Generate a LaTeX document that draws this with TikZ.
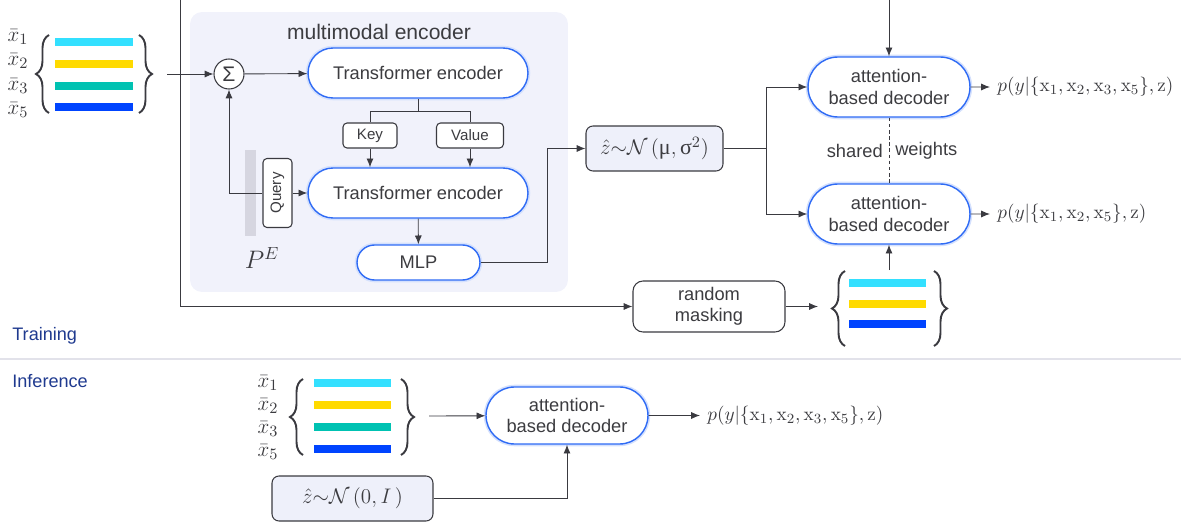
\documentclass[tikz,border=0pt]{standalone}
\usepackage[no-math]{fontspec}
\setmainfont{Liberation Sans}
\newfontfamily\grkfont{Liberation Serif}
\usepackage{xcolor}
\usetikzlibrary{arrows.meta,positioning,shapes.misc,decorations.pathreplacing}

\definecolor{linegray}{HTML}{3A3A40}
\definecolor{textgray}{HTML}{3C3C40}
\definecolor{stadblue}{HTML}{2F6BF5}
\definecolor{encbg}{HTML}{F1F2FB}
\definecolor{zfill}{HTML}{EEF0FA}
\definecolor{barcyan}{HTML}{33E0FF}
\definecolor{baryellow}{HTML}{FFDA00}
\definecolor{barteal}{HTML}{00C2B2}
\definecolor{barblue}{HTML}{0044FF}
\definecolor{pegray}{HTML}{D6D6E0}
\definecolor{phaseblue}{HTML}{1F3A8F}
\definecolor{sepgray}{HTML}{E2E2EA}

\begin{document}
\begin{tikzpicture}[x=0.02cm, y=-0.02cm, every node/.style={text=textgray},
    wire/.style={draw=linegray, line width=0.5pt},
    conn/.style={wire, -{Latex[length=5pt,width=4pt]}},
    stadium/.style={rounded rectangle, draw=stadblue, line width=0.8pt, fill=white,
        preaction={draw=stadblue!20, line width=2.6pt}, inner sep=0pt, align=center,
        font=\fontsize{10.4}{12}\selectfont},
    smallbox/.style={draw=linegray, line width=0.6pt, fill=white, rounded corners=0.08cm,
        inner sep=0pt, font=\fontsize{8.6}{10}\selectfont},
    distbox/.style={draw=linegray, line width=0.6pt, fill=zfill, rounded corners=0.14cm,
        inner sep=0pt, font=\fontsize{12.5}{14}\selectfont},
    colbar/.style={minimum width=1.55cm, minimum height=0.16cm, inner sep=0pt},
    xlab/.style={inner sep=0pt, font=\fontsize{12.5}{14}\selectfont},
    setbrace/.style={wire, line width=1.1pt, decorate, decoration={brace, amplitude=0.26cm}},
    outlab/.style={anchor=west, inner sep=4pt, font=\fontsize{11.2}{13}\selectfont},
    phase/.style={anchor=west, inner sep=0pt, text=phaseblue, font=\fontsize{10.3}{12}\selectfont}]
    \useasboundingbox (0,0) rectangle (1181,527);

    % Training / Inference split
    \draw[sepgray, line width=1pt] (0,359) -- (1181,359);
    \node[phase] (train) at (12,336) {Training};
    \node[phase] (infer) at (12,381) {Inference};

    % Input modalities (training)
    \foreach \i/\col/\y in {1/barcyan/42,2/baryellow/64,3/barteal/86,5/barblue/107}
        \node[colbar, fill=\col] (tbar\i) at (94,\y) {};
    \foreach \i/\y in {1/37,2/61,3/86,5/110}
        \node[xlab] (tlab\i) at (18,\y) {$\bar{x}_{\i}$};
    \draw[setbrace] (49,113) -- (49,35);
    \draw[setbrace] (139,35) -- (139,113);
    \coordinate (tsetr) at (167,74);

    % Multimodal encoder
    \node[fill=encbg, rounded corners=0.24cm, minimum width=7.56cm, minimum height=5.6cm] (enc) at (379,152) {};
    \node[font=\fontsize{12}{14}\selectfont] (enctitle) at (379,32) {multimodal encoder};
    \node[circle, draw=linegray, line width=0.6pt, fill=white, minimum size=0.6cm, inner sep=0pt,
        font=\fontsize{12}{12}\selectfont] (sum) at (229,74) {Σ};
    \node[stadium, minimum width=4.4cm, minimum height=1cm] (te1) at (418,73) {Transformer encoder};
    \node[smallbox, minimum width=1.08cm, minimum height=0.5cm] (key) at (370,135.5) {Key};
    \node[smallbox, minimum width=1.34cm, minimum height=0.5cm] (val) at (470,135.5) {Value};
    \node[stadium, minimum width=4.4cm, minimum height=1cm] (te2) at (418,193) {Transformer encoder};
    \node[fill=pegray, minimum width=0.22cm, minimum height=1.72cm, inner sep=0pt] (pe) at (250.5,193) {};
    \node[font=\fontsize{14}{16}\selectfont] (pelab) at (262,258) {$P^E$};
    \node[smallbox, rotate=90, minimum width=1.38cm, minimum height=0.58cm] (query) at (277.5,193) {Query};
    \node[stadium, minimum width=2.46cm, minimum height=0.7cm] (mlp) at (418.5,262.5) {MLP};

    \draw[conn] (tsetr) -- (sum);
    \draw[conn] (sum) -- (te1);
    \draw[wire] (te1.south) -- ++(0,13) coordinate (kvsplit);
    \draw[wire] (key.north) |- (kvsplit) -| (val.north);
    \draw[conn] (key.south) -- (key.south |- te2.north);
    \draw[conn] (val.south) -- (val.south |- te2.north);
    \draw[conn] (query) -- (te2);
    \draw[conn] (query.north) -| (sum.south);
    \draw[conn] (te2) -- (mlp);

    % Latent and decoders
    \node[distbox, minimum width=2.74cm, minimum height=0.9cm] (zpost) at (654.5,148.5)
        {$\hat{z}{\sim}\mathcal{N}\,(\mbox{\grkfont μ},\mbox{\grkfont σ}^{2})$};
    \node[stadium, minimum width=3.24cm, minimum height=1.2cm] (dec1) at (889,87) {attention-\\based decoder};
    \node[stadium, minimum width=3.24cm, minimum height=1.2cm] (dec2) at (889,214) {attention-\\based decoder};
    \node[outlab] (out1) at (990,87) {$p(y|\{\mathrm{x}_1,\mathrm{x}_2,\mathrm{x}_3,\mathrm{x}_5\},\mathrm{z})$};
    \node[outlab] (out2) at (990,214) {$p(y|\{\mathrm{x}_1,\mathrm{x}_2,\mathrm{x}_5\},\mathrm{z})$};
    \coordinate (zsplit) at (766,148.5);
    \coordinate (topfb) at (889,0);

    \draw[conn] (mlp.east) -- ++(67,0) |- (zpost.west);
    \draw[wire] (zpost.east) -- (zsplit);
    \draw[conn] (zsplit) |- (dec1.west);
    \draw[conn] (zsplit) |- (dec2.west);
    \draw[wire, dashed, dash pattern=on 2pt off 1.5pt] (dec1.south) -- node[left, font=\fontsize{10.4}{12}\selectfont] {shared}
        node[right, font=\fontsize{10.4}{12}\selectfont] {weights} (dec2.north);
    \draw[conn] (dec1) -- (out1);
    \draw[conn] (dec2) -- (out2);
    \draw[conn] (topfb) -- (dec1.north);

    % Random masking
    \coordinate (topleft) at (180,0);
    \node[smallbox, rounded corners=0.2cm, minimum width=3.04cm, minimum height=1.02cm, align=center,
        font=\fontsize{10.4}{12}\selectfont] (mask) at (709,306.5) {random\\masking};
    \foreach \i/\col/\y in {1/barcyan/283,2/baryellow/304,5/barblue/324}
        \node[colbar, fill=\col] (mbar\i) at (887.5,\y) {};
    \draw[setbrace] (845,346) -- (845,271);
    \draw[setbrace] (934,271) -- (934,346);
    \coordinate (msetl) at (818,306.5);
    \coordinate (msettop) at (889,270);
    \draw[conn] (topleft) |- (mask.west);
    \draw[conn] (mask) -- (msetl);
    \draw[conn] (msettop) -- (dec2.south);

    % Inference
    \foreach \i/\col/\y in {1/barcyan/383,2/baryellow/405,3/barteal/427,5/barblue/449}
        \node[colbar, fill=\col] (ibar\i) at (352.5,\y) {};
    \foreach \i/\y in {1/383,2/406,3/429,5/452}
        \node[xlab] (ilab\i) at (268,\y) {$\bar{x}_{\i}$};
    \draw[setbrace] (303,455) -- (303,379);
    \draw[setbrace] (401,379) -- (401,455);
    \coordinate (isetr) at (429,416);
    \node[stadium, minimum width=3.24cm, minimum height=1.14cm] (dec3) at (567,415.5) {attention-\\based decoder};
    \node[distbox, minimum width=3.22cm, minimum height=0.9cm] (zprior) at (352.5,498.5)
        {$\hat{z}{\sim}\mathcal{N}\,(0,I\,)$};
    \node[outlab] (out3) at (700,415.5) {$p(y|\{\mathrm{x}_1,\mathrm{x}_2,\mathrm{x}_3,\mathrm{x}_5\},\mathrm{z})$};
    \draw[conn] (isetr) -- (dec3);
    \draw[conn] (zprior.east) -| (dec3.south);
    \draw[conn] (dec3) -- (out3);
\end{tikzpicture}
\end{document}
